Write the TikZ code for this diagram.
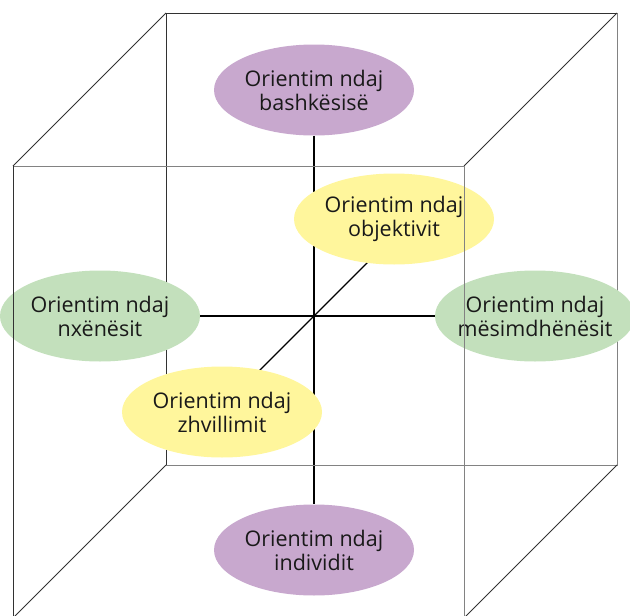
\documentclass[tikz,border=0pt]{standalone}
\usepackage{fontspec}
\setmainfont{Open Sans}
\usetikzlibrary{shapes.geometric,backgrounds,calc}

\definecolor{lila}{RGB}{200,168,206}
\definecolor{verdhe}{RGB}{255,246,156}
\definecolor{gjelber}{RGB}{195,224,188}
\definecolor{vijaerret}{RGB}{50,50,50}
\definecolor{vijagri}{RGB}{130,130,130}

\tikzset{
  orientim/.style={ellipse,minimum width=200pt,minimum height=91pt,
    inner xsep=-20pt,inner ysep=0pt,
    align=center,font=\fontsize{21.5}{24}\selectfont,text=black!90},
  kubi/.style={line width=0.8pt},
  aksi/.style={line width=1.4pt,black}
}

\begin{document}
\begin{tikzpicture}[x=1pt,y=-1pt,line join=round]
  \useasboundingbox (0,0) rectangle (630,616);
  \clip (0,0) rectangle (630,616);

  % kulmet e kubit: faqja e pasme
  \coordinate (B1) at (166,13);
  \coordinate (B2) at (617,13);
  \coordinate (B3) at (617,465);
  \coordinate (B4) at (166,465);
  % faqja e perparme
  \coordinate (F1) at (13,166);
  \coordinate (F2) at (464,166);
  \coordinate (F3) at (464,618);
  \coordinate (F4) at (13,618);
  % qendra
  \coordinate (O) at (314,316);

  % faqja e pasme (nen elipset)
  \draw[kubi,vijaerret] (B4) -- (B1) -- (B2);
  \draw[kubi,vijagri] (B2) -- (B3) -- (B4);
  \draw[kubi,vijaerret] (F1) -- (B1);
  \draw[kubi,vijaerret] (F2) -- (B2);
  \draw[kubi,vijaerret] (F3) -- (B3);
  \draw[kubi,vijaerret] (F4) -- (B4);

  % elipset
  \node[orientim,fill=lila] (bash) at (314,90) {Orientim ndaj\\bashkësisë};
  \node[orientim,fill=lila] (indiv) at (314,550) {Orientim ndaj\\individit};
  \node[orientim,fill=gjelber] (nxen) at (100,316) {Orientim ndaj\\nxënësit};
  \node[orientim,fill=gjelber] (mesim) at (535,316) {Orientim ndaj\\mësimdhënësit};
  \node[orientim,fill=verdhe] (objekt) at (394,219) {Orientim ndaj\\objektivit};
  \node[orientim,fill=verdhe] (zhvill) at (222,412) {Orientim ndaj\\zhvillimit};

  % boshtet
  \coordinate (D1) at ($(O)+(90,-90)$);
  \coordinate (D2) at ($(O)+(-90,90)$);
  \begin{pgfonlayer}{background}
    \draw[aksi] (bash) -- (indiv);
    \draw[aksi] (nxen) -- (mesim);
    \draw[aksi] (D2) -- (D1);
  \end{pgfonlayer}

  % faqja e perparme (mbi elipset)
  \draw[kubi,vijagri] (F1) -- (F2) -- (F3);
  \draw[kubi,vijaerret] (F1) -- (F4);
\end{tikzpicture}
\end{document}
